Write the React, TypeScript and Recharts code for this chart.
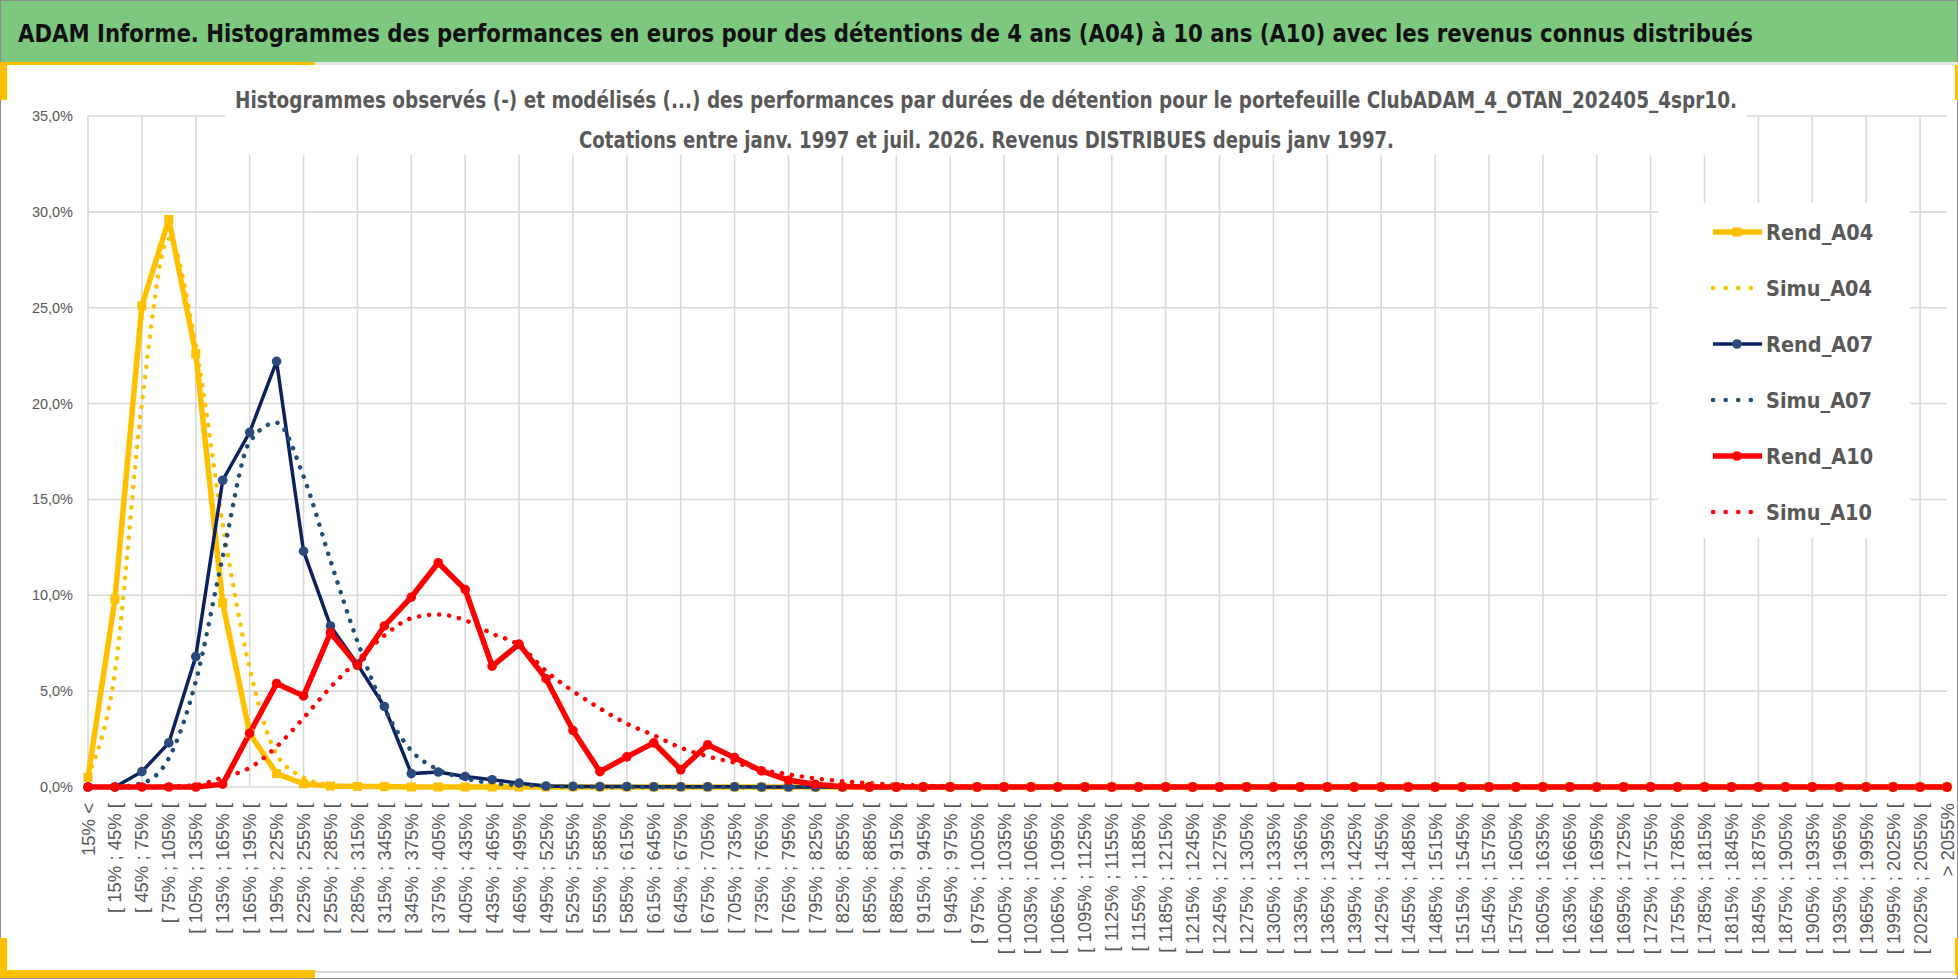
import React from 'react';
import { CartesianGrid, Line, LineChart, XAxis, YAxis } from 'recharts';

const categories = [
  '15% <', '[ 15% ; 45% [', '[ 45% ; 75% [', '[ 75% ; 105% [', '[ 105% ; 135% [',
  '[ 135% ; 165% [', '[ 165% ; 195% [', '[ 195% ; 225% [', '[ 225% ; 255% [', '[ 255% ; 285% [',
  '[ 285% ; 315% [', '[ 315% ; 345% [', '[ 345% ; 375% [', '[ 375% ; 405% [', '[ 405% ; 435% [',
  '[ 435% ; 465% [', '[ 465% ; 495% [', '[ 495% ; 525% [', '[ 525% ; 555% [', '[ 555% ; 585% [',
  '[ 585% ; 615% [', '[ 615% ; 645% [', '[ 645% ; 675% [', '[ 675% ; 705% [', '[ 705% ; 735% [',
  '[ 735% ; 765% [', '[ 765% ; 795% [', '[ 795% ; 825% [', '[ 825% ; 855% [', '[ 855% ; 885% [',
  '[ 885% ; 915% [', '[ 915% ; 945% [', '[ 945% ; 975% [', '[ 975% ; 1005% [', '[ 1005% ; 1035% [',
  '[ 1035% ; 1065% [', '[ 1065% ; 1095% [', '[ 1095% ; 1125% [', '[ 1125% ; 1155% [', '[ 1155% ; 1185% [',
  '[ 1185% ; 1215% [', '[ 1215% ; 1245% [', '[ 1245% ; 1275% [', '[ 1275% ; 1305% [', '[ 1305% ; 1335% [',
  '[ 1335% ; 1365% [', '[ 1365% ; 1395% [', '[ 1395% ; 1425% [', '[ 1425% ; 1455% [', '[ 1455% ; 1485% [',
  '[ 1485% ; 1515% [', '[ 1515% ; 1545% [', '[ 1545% ; 1575% [', '[ 1575% ; 1605% [', '[ 1605% ; 1635% [',
  '[ 1635% ; 1665% [', '[ 1665% ; 1695% [', '[ 1695% ; 1725% [', '[ 1725% ; 1755% [', '[ 1755% ; 1785% [',
  '[ 1785% ; 1815% [', '[ 1815% ; 1845% [', '[ 1845% ; 1875% [', '[ 1875% ; 1905% [', '[ 1905% ; 1935% [',
  '[ 1935% ; 1965% [', '[ 1965% ; 1995% [', '[ 1995% ; 2025% [', '[ 2025% ; 2055% [', '> 2055%',
];

// values in %, one per category
const rendA04 = [
  0.5, 9.8, 25.1, 29.6, 22.6, 9.6, 2.8, 0.7, 0.17, 0.05,
  0.03, 0.02, 0, 0, 0, 0, 0, 0, 0, 0,
  0, 0, 0, 0, 0, 0, 0, 0, 0, 0,
  0, 0, 0, 0, 0, 0, 0, 0, 0, 0,
  0, 0, 0, 0, 0, 0, 0, 0, 0, 0,
  0, 0, 0, 0, 0, 0, 0, 0, 0, 0,
  0, 0, 0, 0, 0, 0, 0, 0, 0, 0,
];
const simuA04 = [
  0.6, 6.0, 20.0, 28.6, 23.0, 13.7, 6.2, 1.7, 0.5, 0.1,
  0.03, 0.01, 0, 0, 0, 0, 0, 0, 0, 0,
  0, 0, 0, 0, 0, 0, 0, 0, 0, 0,
  0, 0, 0, 0, 0, 0, 0, 0, 0, 0,
  0, 0, 0, 0, 0, 0, 0, 0, 0, 0,
  0, 0, 0, 0, 0, 0, 0, 0, 0, 0,
  0, 0, 0, 0, 0, 0, 0, 0, 0, 0,
];
const rendA07 = [
  0, 0, 0.8, 2.3, 6.8, 16.0, 18.5, 22.2, 12.3, 8.4,
  6.4, 4.2, 0.7, 0.78, 0.55, 0.38, 0.2, 0.05, 0.03, 0.02,
  0.02, 0.01, 0.01, 0.01, 0.01, 0, 0, 0, 0, 0,
  0, 0, 0, 0, 0, 0, 0, 0, 0, 0,
  0, 0, 0, 0, 0, 0, 0, 0, 0, 0,
  0, 0, 0, 0, 0, 0, 0, 0, 0, 0,
  0, 0, 0, 0, 0, 0, 0, 0, 0, 0,
];
const simuA07 = [
  0, 0, 0.2, 1.5, 5.5, 12.0, 18.0, 19.0, 16.2, 11.8,
  7.6, 4.1, 1.9, 0.9, 0.45, 0.2, 0.1, 0.05, 0.02, 0.01,
  0, 0, 0, 0, 0, 0, 0, 0, 0, 0,
  0, 0, 0, 0, 0, 0, 0, 0, 0, 0,
  0, 0, 0, 0, 0, 0, 0, 0, 0, 0,
  0, 0, 0, 0, 0, 0, 0, 0, 0, 0,
  0, 0, 0, 0, 0, 0, 0, 0, 0, 0,
];
const rendA10 = [
  0, 0, 0, 0, 0, 0.15, 2.8, 5.4, 4.75, 8.05,
  6.35, 8.4, 9.9, 11.7, 10.3, 6.3, 7.45, 5.65, 2.95, 0.8,
  1.57, 2.3, 0.9, 2.2, 1.53, 0.84, 0.35, 0.14, 0.02, 0,
  0, 0, 0, 0, 0, 0, 0, 0, 0, 0,
  0, 0, 0, 0, 0, 0, 0, 0, 0, 0,
  0, 0, 0, 0, 0, 0, 0, 0, 0, 0,
  0, 0, 0, 0, 0, 0, 0, 0, 0, 0,
];
const simuA10 = [
  0, 0, 0, 0.03, 0.1, 0.5, 1.0, 2.1, 3.6, 5.2,
  6.6, 7.9, 8.8, 9.0, 8.7, 8.0, 7.4, 6.05, 5.0, 4.1,
  3.3, 2.7, 2.05, 1.6, 1.27, 0.9, 0.66, 0.45, 0.3, 0.2,
  0.12, 0.07, 0.04, 0.02, 0.01, 0, 0, 0, 0, 0,
  0, 0, 0, 0, 0, 0, 0, 0, 0, 0,
  0, 0, 0, 0, 0, 0, 0, 0, 0, 0,
  0, 0, 0, 0, 0, 0, 0, 0, 0, 0,
];

const yTicks = [0, 5, 10, 15, 20, 25, 30, 35];

const mainTitle =
  'ADAM Informe. Histogrammes des performances en euros pour des détentions de 4 ans (A04) à 10 ans (A10) avec les revenus connus distribués';
const chartTitle1 =
  'Histogrammes observés (-) et modélisés (...) des performances  par durées de détention pour  le portefeuille ClubADAM_4_OTAN_202405_4spr10.';
const chartTitle2 = 'Cotations  entre janv. 1997 et juil. 2026. Revenus DISTRIBUES depuis janv 1997.';

const data = categories.map((name, i) => ({
  name,
  Rend_A04: rendA04[i],
  Simu_A04: simuA04[i],
  Rend_A07: rendA07[i],
  Simu_A07: simuA07[i],
  Rend_A10: rendA10[i],
  Simu_A10: simuA10[i],
}));

const YELLOW = '#FFC000';
const NAVY = '#0C2260';
const NAVY_DOT = '#2B4A7E';
const BLUE_SIM = '#1F4E79';
const RED = '#FF0000';
const GRID = '#D9D9D9';
const TXT = '#595959';
const narrow = "'Liberation Sans Narrow', 'DejaVu Sans Condensed', 'Arial Narrow', sans-serif";
const sans = "'Liberation Sans', Arial, sans-serif";

const legendItems = [
  { label: 'Rend_A04', color: YELLOW, dotted: false, marker: 'square', width: 5.5, mcolor: YELLOW },
  { label: 'Simu_A04', color: YELLOW, dotted: true },
  { label: 'Rend_A07', color: NAVY, dotted: false, marker: 'circle', width: 3.5, mcolor: NAVY_DOT },
  { label: 'Simu_A07', color: BLUE_SIM, dotted: true },
  { label: 'Rend_A10', color: RED, dotted: false, marker: 'circle', width: 5.5, mcolor: RED },
  { label: 'Simu_A10', color: RED, dotted: true },
];

const fmtPct = (v: number) => `${v.toFixed(1).replace('.', ',')}%`;

const XTick = ({ x, y, payload }: any) => (
  <text
    transform={`translate(${x},${y}) rotate(-90)`}
    x={-16}
    y={6.5}
    textAnchor='end'
    fill={TXT}
    fontSize={18.5}
    fontFamily={sans}
  >
    {payload.value}
  </text>
);

const YTick = ({ x, y, payload }: any) => (
  <text x={x - 15} y={y + 5} textAnchor='end' fill={TXT} fontSize={14.5} fontFamily={sans}>
    {fmtPct(payload.value)}
  </text>
);

const squareDot = (color: string) => (p: any) =>
  <rect key={`sq-${p.index}`} x={p.cx - 4.5} y={p.cy - 4.5} width={9} height={9} fill={color} />;

const circleDot = (color: string, r: number) => (p: any) =>
  <circle key={`c-${p.index}`} cx={p.cx} cy={p.cy} r={r} fill={color} />;

// vertical grid every second category, taken from the axis scale
const evenGrid = ({ xAxis, offset }: any) => {
  const s = xAxis && xAxis.scale;
  const half = s && typeof s.bandwidth === 'function' ? s.bandwidth() / 2 : 0;
  return categories.flatMap((c, i) => {
    if (i % 2) return [];
    if (typeof s === 'function') return [s(c) + half];
    return [offset.left + (i * offset.width) / (categories.length - 1)];
  });
};

export default function App() {
  return (
    <div style={{ position: 'absolute', left: 0, top: 0, width: 1958, height: 979, background: '#fff' }}>
      <svg width={1958} height={979} style={{ position: 'absolute', left: 0, top: 0 }}>
        <rect x={0.5} y={0.5} width={1957} height={978} fill='#fff' stroke='#8C8C8C' />
        <rect x={1} y={1} width={1956} height={61} fill='#7DC87F' />
        <rect x={0} y={62} width={1958} height={3} fill='#E4E4E4' />
        <rect x={0} y={62} width={315} height={3} fill={YELLOW} />
        <rect x={0} y={62} width={7} height={38} fill={YELLOW} />
        <rect x={1955} y={65} width={3} height={35} fill={YELLOW} />
        <rect x={0} y={971} width={1958} height={2} fill={GRID} />
        <rect x={0} y={938} width={7} height={40} fill={YELLOW} />
        <rect x={0} y={970} width={315} height={8} fill={YELLOW} />
        <rect x={1955} y={938} width={3} height={37} fill={YELLOW} />
        <text
          x={18}
          y={42}
          fontFamily={narrow}
          fontWeight='bold'
          fontSize={25}
          fill='#111'
          textLength={1735}
          lengthAdjust='spacingAndGlyphs'
        >
          {mainTitle}
        </text>
      </svg>

      <div style={{ position: 'absolute', left: 0, top: 0 }}>
        <LineChart
          width={1958}
          height={979}
          data={data}
          margin={{ top: 116, right: 11, bottom: 12, left: 28 }}
        >
          <CartesianGrid
            stroke={GRID}
            strokeWidth={1.6}
            verticalCoordinatesGenerator={evenGrid}
          />
          <XAxis
            dataKey='name'
            interval={0}
            height={180}
            tickSize={0}
            tickMargin={0}
            tickLine={false}
            axisLine={false}
            tick={<XTick />}
          />
          <YAxis
            width={60}
            domain={[0, 35]}
            ticks={yTicks}
            tickSize={0}
            tickMargin={0}
            axisLine={false}
            tickLine={false}
            tick={<YTick />}
          />
          <Line
            dataKey='Rend_A04'
            stroke={YELLOW}
            strokeWidth={5.5}
            type='linear'
            dot={squareDot(YELLOW)}
            isAnimationActive={false}
          />
          <Line
            dataKey='Simu_A04'
            stroke={YELLOW}
            strokeWidth={4.5}
            strokeDasharray='0.1 10'
            strokeLinecap='round'
            type='monotone'
            dot={false}
            isAnimationActive={false}
          />
          <Line
            dataKey='Rend_A07'
            stroke={NAVY}
            strokeWidth={3.5}
            type='linear'
            dot={circleDot(NAVY_DOT, 4.8)}
            isAnimationActive={false}
          />
          <Line
            dataKey='Simu_A07'
            stroke={BLUE_SIM}
            strokeWidth={4.5}
            strokeDasharray='0.1 10'
            strokeLinecap='round'
            type='monotone'
            dot={false}
            isAnimationActive={false}
          />
          <Line
            dataKey='Rend_A10'
            stroke={RED}
            strokeWidth={5.5}
            type='linear'
            dot={circleDot(RED, 4.8)}
            isAnimationActive={false}
          />
          <Line
            dataKey='Simu_A10'
            stroke={RED}
            strokeWidth={4.5}
            strokeDasharray='0.1 10'
            strokeLinecap='round'
            type='monotone'
            dot={false}
            isAnimationActive={false}
          />
        </LineChart>
      </div>

      <svg width={1958} height={979} style={{ position: 'absolute', left: 0, top: 0, pointerEvents: 'none' }}>
        {/* chart title box */}
        <rect x={225} y={76} width={1522} height={79} fill='#fff' />
        <text
          x={235}
          y={108}
          fontFamily={narrow}
          fontWeight='bold'
          fontSize={23.5}
          fill={TXT}
          textLength={1502}
          lengthAdjust='spacingAndGlyphs'
        >
          {chartTitle1}
        </text>
        <text
          x={579}
          y={148}
          fontFamily={narrow}
          fontWeight='bold'
          fontSize={23.5}
          fill={TXT}
          textLength={815}
          lengthAdjust='spacingAndGlyphs'
        >
          {chartTitle2}
        </text>

        {/* legend */}
        <rect x={1658} y={203} width={252} height={335} fill='#fff' />
        {legendItems.map((it, k) => {
          const cy = 232 + 56 * k;
          return (
            <g key={it.label}>
              {it.dotted ? (
                <line
                  x1={1713}
                  x2={1752}
                  y1={cy}
                  y2={cy}
                  stroke={it.color}
                  strokeWidth={4.5}
                  strokeDasharray='0.1 12.5'
                  strokeLinecap='round'
                />
              ) : (
                <line x1={1713} x2={1762} y1={cy} y2={cy} stroke={it.color} strokeWidth={it.width} />
              )}
              {it.marker === 'square' && (
                <rect x={1737 - 4.5} y={cy - 4.5} width={9} height={9} fill={it.mcolor} />
              )}
              {it.marker === 'circle' && <circle cx={1737} cy={cy} r={4.8} fill={it.mcolor} />}
              <text x={1766} y={cy + 7.5} fontFamily={narrow} fontWeight='bold' fontSize={21.5} fill={TXT}>
                {it.label}
              </text>
            </g>
          );
        })}
      </svg>
    </div>
  );
}
